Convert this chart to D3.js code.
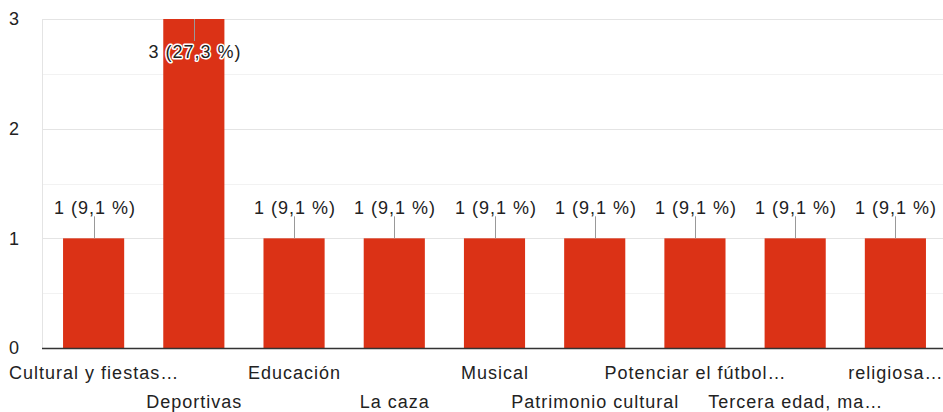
<!DOCTYPE html>
<html>
<head>
<meta charset="utf-8">
<script src="https://cdn.jsdelivr.net/npm/d3@7"></script>
<style>
  html, body { margin: 0; padding: 0; background: #fff; overflow: hidden; }
  svg { display: block; font-family: "Liberation Sans", Arial, sans-serif; }
  text { letter-spacing: 1px; }
</style>
</head>
<body>
<div id="chart"></div>
<script>
const categories = [
  "Cultural y fiestas…", "Deportivas", "Educación", "La caza", "Musical",
  "Patrimonio cultural", "Potenciar el fútbol…", "Tercera edad, ma…", "religiosa…"
];
const counts = [1, 3, 1, 1, 1, 1, 1, 1, 1];
const percents = ["9,1", "27,3", "9,1", "9,1", "9,1", "9,1", "9,1", "9,1", "9,1"];
const yTicks = [0, 1, 2, 3];
const yMinor = [0.5, 1.5, 2.5];

const width = 943, height = 412;
const margin = { top: 19, right: -3, bottom: 64, left: 43 };
const innerWidth = width - margin.left - margin.right;
const innerHeight = height - margin.top - margin.bottom;
const fontSize = 18;

const data = categories.map((c, i) => ({ label: c, value: counts[i], pct: percents[i] }));

const svg = d3.select("#chart").append("svg").attr("width", width).attr("height", height);
const g = svg.append("g").attr("transform", `translate(${margin.left},${margin.top})`);

const x = d3.scaleBand().domain(categories).range([0, innerWidth]).paddingInner(0.39).paddingOuter(0.2);
const y = d3.scaleLinear().domain([0, 3]).range([innerHeight, 0]);

// minor grid
g.append("g")
  .selectAll("line")
  .data(yMinor)
  .join("line")
  .attr("x1", -1).attr("x2", innerWidth)
  .attr("y1", (d) => Math.round(y(d)) + 0.5).attr("y2", (d) => Math.round(y(d)) + 0.5)
  .attr("stroke", "#f2f2f2");

// major grid
g.append("g")
  .selectAll("line")
  .data(yTicks.filter((d) => d > 0))
  .join("line")
  .attr("x1", -1).attr("x2", innerWidth)
  .attr("y1", (d) => Math.round(y(d)) + 0.5).attr("y2", (d) => Math.round(y(d)) + 0.5)
  .attr("stroke", "#e4e4e4");

// left frame
g.append("line")
  .attr("x1", -0.5).attr("x2", -0.5)
  .attr("y1", 0).attr("y2", innerHeight)
  .attr("stroke", "#e4e4e4");

// y tick labels
const yAxis = g.append("g").call(d3.axisLeft(y).tickValues(yTicks).tickSize(0).tickPadding(23).tickFormat(d3.format("d")));
yAxis.select(".domain").remove();
yAxis.selectAll("text").attr("font-size", fontSize).attr("fill", "#222").attr("font-family", "Liberation Sans, Arial, sans-serif");

// bars
g.append("g")
  .selectAll("rect")
  .data(data)
  .join("rect")
  .attr("x", (d) => x(d.label))
  .attr("width", x.bandwidth())
  .attr("y", (d) => y(d.value))
  .attr("height", (d) => innerHeight - y(d.value))
  .attr("fill", "#db3216");

// baseline
g.append("line")
  .attr("x1", -1).attr("x2", innerWidth)
  .attr("y1", innerHeight + 0.5).attr("y2", innerHeight + 0.5)
  .attr("stroke", "#333").attr("stroke-width", 1.5);

// value labels + leader lines
const ann = g.append("g");
data.forEach((d) => {
  const cx = Math.round(x(d.label) + x.bandwidth() / 2) + 0.5;
  const top = y(d.value);
  const inside = top < 30;
  const ly = inside ? top + 39 : top - 24;
  ann.append("line")
    .attr("x1", cx).attr("x2", cx)
    .attr("y1", inside ? top : top - 22).attr("y2", inside ? top + 22 : top)
    .attr("stroke", "#999");
  const label = `${d.value} (${d.pct} %)`;
  ann.append("text")
    .attr("x", cx + 0.5).attr("y", ly)
    .attr("text-anchor", "middle")
    .attr("font-size", fontSize)
    .attr("fill", "#222")
    .attr("stroke", "#fff").attr("stroke-width", 3).attr("stroke-linejoin", "round")
    .attr("paint-order", "stroke")
    .text(label);
});

// x labels, staggered
g.append("g")
  .selectAll("text")
  .data(data)
  .join("text")
  .attr("x", (d) => x(d.label) + x.bandwidth() / 2 + 0.5)
  .attr("y", (d, i) => innerHeight + (i % 2 === 0 ? 31 : 60))
  .attr("text-anchor", "middle")
  .attr("font-size", fontSize)
  .attr("fill", "#222")
  .text((d) => d.label);
</script>
</body>
</html>
